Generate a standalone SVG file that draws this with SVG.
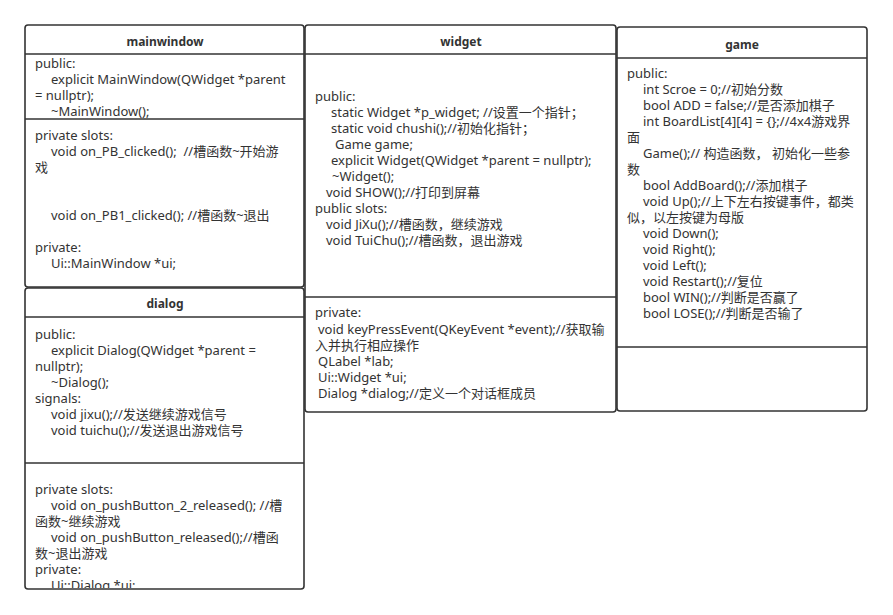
<svg xmlns="http://www.w3.org/2000/svg" width="893" height="615" viewBox="0 0 893 615">
<style>
.box{fill:#fff;stroke:#333;stroke-width:1.6}
.ln{stroke:#333;stroke-width:1.6;fill:none}
.t{font-family:"Noto Sans","Noto Sans CJK SC",sans-serif;font-size:13px;fill:#333}
.h{font-family:"Noto Sans","Noto Sans CJK SC",sans-serif;font-size:12px;font-weight:bold;fill:#333;text-anchor:middle}
</style>
<defs>
<clipPath id="cm1"><rect x="26" y="55" width="277" height="63"/></clipPath>
<clipPath id="cd2"><rect x="26" y="464" width="277" height="124"/></clipPath>
</defs>
<rect width="893" height="615" fill="#fff"/>
<g id="connectors"></g>
<g id="mainwindow">
<rect class="box" x="25" y="25" width="279" height="262" rx="3"/>
<line class="ln" x1="25" y1="54" x2="304" y2="54"/>
<line class="ln" x1="25" y1="119" x2="304" y2="119"/>
<text class="h" x="165" y="46">mainwindow</text>
<g clip-path="url(#cm1)">
<text class="t" x="35" y="68">public:</text>
<text class="t" x="51" y="84">explicit MainWindow(QWidget *parent</text>
<text class="t" x="35" y="100">= nullptr);</text>
<text class="t" x="51" y="116">~MainWindow();</text>
</g>
<text class="t" x="35" y="140">private slots:</text>
<text class="t" x="51" y="156" xml:space="preserve">void on_PB_clicked();  //槽函数~开始游</text>
<text class="t" x="35" y="172">戏</text>
<text class="t" x="51" y="220">void on_PB1_clicked(); //槽函数~退出</text>
<text class="t" x="35" y="252">private:</text>
<text class="t" x="51" y="268">Ui::MainWindow *ui;</text>
</g>
<g id="dialog">
<rect class="box" x="25" y="288" width="279" height="301" rx="3"/>
<line class="ln" x1="25" y1="317" x2="304" y2="317"/>
<line class="ln" x1="25" y1="463" x2="304" y2="463"/>
<text class="h" x="165" y="308">dialog</text>
<text class="t" x="35" y="339">public:</text>
<text class="t" x="51" y="355">explicit Dialog(QWidget *parent =</text>
<text class="t" x="35" y="371">nullptr);</text>
<text class="t" x="51" y="387">~Dialog();</text>
<text class="t" x="35" y="403">signals:</text>
<text class="t" x="51" y="419">void jixu();//发送继续游戏信号</text>
<text class="t" x="51" y="435">void tuichu();//发送退出游戏信号</text>
<g clip-path="url(#cd2)">
<text class="t" x="35" y="494">private slots:</text>
<text class="t" x="51" y="510">void on_pushButton_2_released(); //槽</text>
<text class="t" x="35" y="526">函数~继续游戏</text>
<text class="t" x="51" y="542">void on_pushButton_released();//槽函</text>
<text class="t" x="35" y="558">数~退出游戏</text>
<text class="t" x="35" y="574">private:</text>
<text class="t" x="51" y="590">Ui::Dialog *ui;</text>
</g>
</g>
<g id="widget">
<rect class="box" x="305" y="25" width="311" height="387" rx="3"/>
<line class="ln" x1="305" y1="54" x2="616" y2="54"/>
<line class="ln" x1="305" y1="297" x2="616" y2="297"/>
<text class="h" x="461" y="46">widget</text>
<text class="t" x="315" y="101">public:</text>
<text class="t" x="331" y="117">static Widget *p_widget; //设置一个指针；</text>
<text class="t" x="331" y="133">static void chushi();//初始化指针；</text>
<text class="t" x="335" y="149">Game game;</text>
<text class="t" x="331" y="165">explicit Widget(QWidget *parent = nullptr);</text>
<text class="t" x="332" y="181">~Widget();</text>
<text class="t" x="326" y="197">void SHOW();//打印到屏幕</text>
<text class="t" x="315" y="213">public slots:</text>
<text class="t" x="326" y="229">void JiXu();//槽函数，继续游戏</text>
<text class="t" x="326" y="245">void TuiChu();//槽函数，退出游戏</text>
<text class="t" x="315" y="317">private:</text>
<text class="t" x="318" y="334">void keyPressEvent(QKeyEvent *event);//获取输</text>
<text class="t" x="315" y="350">入并执行相应操作</text>
<text class="t" x="318" y="366">QLabel *lab;</text>
<text class="t" x="318" y="382">Ui::Widget *ui;</text>
<text class="t" x="318" y="398">Dialog *dialog;//定义一个对话框成员</text>
</g>
<g id="game">
<rect class="box" x="617" y="27" width="250" height="384" rx="3"/>
<line class="ln" x1="617" y1="58" x2="867" y2="58"/>
<line class="ln" x1="617" y1="347" x2="867" y2="347"/>
<text class="h" x="742" y="49">game</text>
<text class="t" x="627" y="78">public:</text>
<text class="t" x="643" y="94">int Scroe = 0;//初始分数</text>
<text class="t" x="643" y="110">bool ADD = false;//是否添加棋子</text>
<text class="t" x="643" y="126">int BoardList[4][4] = {};//4x4游戏界</text>
<text class="t" x="627" y="142">面</text>
<text class="t" x="643" y="158">Game();// 构造函数， 初始化一些参</text>
<text class="t" x="627" y="174">数</text>
<text class="t" x="643" y="190">bool AddBoard();//添加棋子</text>
<text class="t" x="643" y="206">void Up();//上下左右按键事件，都类</text>
<text class="t" x="627" y="222">似，以左按键为母版</text>
<text class="t" x="643" y="238">void Down();</text>
<text class="t" x="643" y="254">void Right();</text>
<text class="t" x="643" y="270">void Left();</text>
<text class="t" x="643" y="286">void Restart();//复位</text>
<text class="t" x="643" y="302">bool WIN();//判断是否赢了</text>
<text class="t" x="643" y="318">bool LOSE();//判断是否输了</text>
</g>
</svg>
